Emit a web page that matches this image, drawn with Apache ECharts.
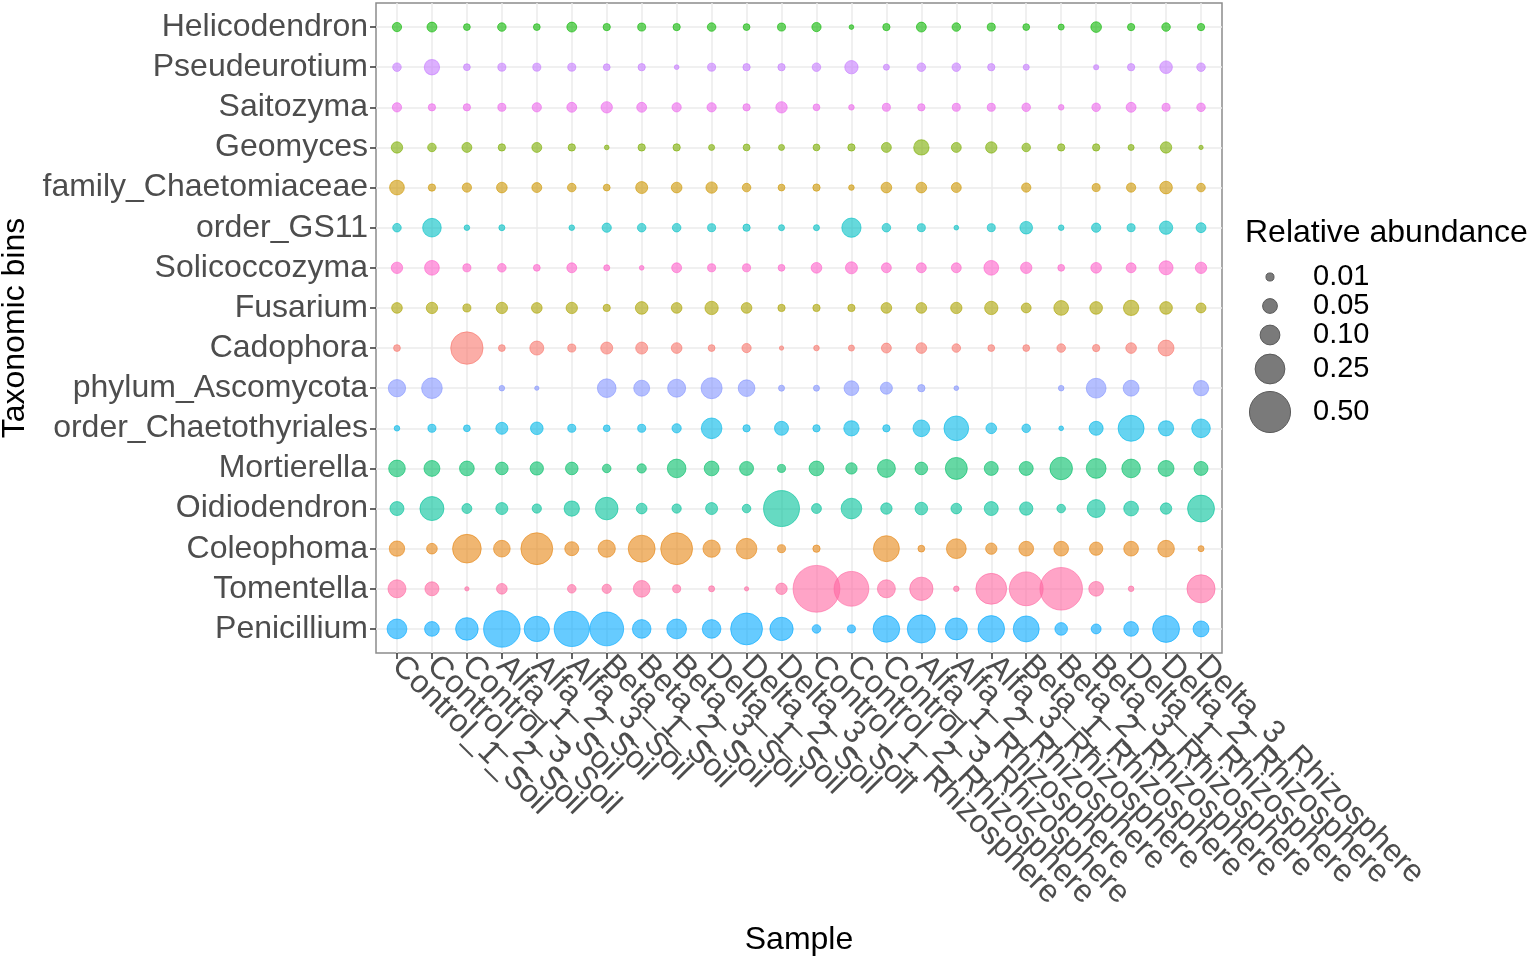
<!DOCTYPE html>
<html><head><meta charset="utf-8">
<script src="https://cdn.jsdelivr.net/npm/echarts@6/dist/echarts.min.js"></script>
<style>html,body{margin:0;padding:0;background:#fff}#c{width:1534px;height:961px}</style>
</head><body><div id="c"></div>
<script>
const samples = ['Control_1_Soil','Control_2_Soil','Control_3_Soil','Alfa_1_Soil','Alfa_2_Soil','Alfa_3_Soil','Beta_1_Soil','Beta_2_Soil','Beta_3_Soil','Delta_1_Soil','Delta_2_Soil','Delta_3_Soil','Control_1_Rhizosphere','Control_2_Rhizosphere','Control_3_Rhizosphere','Alfa_1_Rhizosphere','Alfa_2_Rhizosphere','Alfa_3_Rhizosphere','Beta_1_Rhizosphere','Beta_2_Rhizosphere','Beta_3_Rhizosphere','Delta_1_Rhizosphere','Delta_2_Rhizosphere','Delta_3_Rhizosphere'];
const taxa = ['Helicodendron','Pseudeurotium','Saitozyma','Geomyces','family_Chaetomiaceae','order_GS11','Solicoccozyma','Fusarium','Cadophora','phylum_Ascomycota','order_Chaetothyriales','Mortierella','Oidiodendron','Coleophoma','Tomentella','Penicillium'];
const taxonColors = ['#0CB702','#C77CFF','#ED68ED','#7CAE00','#CD9600','#00BFC4','#FF61CC','#ABA300','#F8766D','#8494FF','#00B8E7','#00BE67','#00C19A','#E68613','#FF68A1','#00A9FF'];

const helicodendron = [0.015,0.018,0.006,0.012,0.006,0.018,0.0075,0.01,0.0075,0.012,0.006,0.01, 0.015,0.0015,0.0075,0.018,0.012,0.01,0.006,0.004,0.022,0.0075,0.012,0.0075];
const pseudeurotium = [0.012,0.055,0.006,0.01,0.01,0.01,0.006,0.0075,0.0015,0.01,0.0075,0.0075, 0.012,0.039,0.004,0.012,0.012,0.0075,0.004,0,0.002,0.0075,0.034,0.012];
const saitozyma = [0.015,0.0075,0.0075,0.01,0.015,0.018,0.026,0.018,0.015,0.015,0.0075,0.026, 0.006,0.003,0.01,0.0075,0.01,0.01,0.012,0.003,0.012,0.018,0.01,0.012];
const geomyces = [0.026,0.012,0.018,0.0075,0.018,0.0075,0.0015,0.0075,0.0075,0.004,0.006,0.004, 0.006,0.0075,0.018,0.055,0.018,0.026,0.012,0.0075,0.0075,0.004,0.026,0.001];
const familyChaetomiaceae = [0.05,0.0075,0.015,0.022,0.018,0.012,0.006,0.03,0.022,0.026,0.012,0.006, 0.0075,0.003,0.022,0.022,0.018,0,0.015,0,0.01,0.015,0.034,0.012];
const orderGS11 = [0.012,0.087,0.003,0.004,0,0.003,0.015,0.012,0.012,0.01,0.0075,0.004, 0.004,0.094,0.012,0.01,0.0015,0.01,0.034,0.003,0.015,0.01,0.039,0.018];
const solicoccozyma = [0.026,0.05,0.01,0.012,0.006,0.018,0.004,0.0015,0.018,0.01,0.01,0.006, 0.022,0.03,0.018,0.018,0.018,0.05,0.026,0.006,0.022,0.018,0.044,0.026];
const fusarium = [0.022,0.026,0.01,0.026,0.022,0.026,0.0075,0.034,0.022,0.039,0.022,0.0075, 0.0075,0.0075,0.022,0.022,0.026,0.039,0.018,0.05,0.034,0.055,0.034,0.018];
const cadophora = [0.006,0,0.30,0.006,0.044,0.01,0.03,0.03,0.022,0.006,0.015,0.001, 0.003,0.004,0.018,0.022,0.012,0.006,0.006,0.012,0.0075,0.022,0.06,0];
const phylumAscomycota = [0.073,0.11,0,0.003,0.001,0,0.087,0.06,0.08,0.115,0.067,0.004, 0.004,0.05,0.03,0.0075,0.0015,0,0,0.003,0.10,0.06,0,0.055];
const orderChaetothyriales = [0.003,0.01,0.006,0.03,0.034,0.01,0.006,0.01,0.015,0.11,0.0075,0.044, 0.0075,0.055,0.0075,0.067,0.165,0.022,0.012,0.0015,0.044,0.185,0.055,0.087];
const mortierella = [0.067,0.06,0.05,0.034,0.039,0.034,0.012,0.015,0.087,0.05,0.044,0.01, 0.05,0.026,0.08,0.034,0.127,0.044,0.044,0.135,0.10,0.087,0.06,0.044];
const oidiodendron = [0.044,0.155,0.018,0.03,0.015,0.055,0.135,0.022,0.015,0.03,0.012,0.377, 0.018,0.11,0.026,0.034,0.022,0.044,0.039,0.012,0.08,0.05,0.026,0.2];
const coleophoma = [0.055,0.022,0.23,0.067,0.29,0.044,0.073,0.2,0.29,0.073,0.11,0.01, 0.0075,0,0.185,0.006,0.10,0.026,0.05,0.05,0.039,0.05,0.067,0.004];
const tomentella = [0.08,0.044,0.001,0.022,0,0.012,0.015,0.067,0.01,0.004,0.001,0.026, 0.66,0.35,0.08,0.145,0.003,0.27,0.33,0.54,0.05,0.003,0,0.22];
const penicillium = [0.10,0.05,0.135,0.39,0.175,0.36,0.33,0.087,0.10,0.087,0.29,0.145, 0.012,0.01,0.195,0.22,0.127,0.195,0.185,0.034,0.018,0.05,0.2,0.06];

const legendBreaks = [0.01, 0.05, 0.10, 0.25, 0.50];
const legendLabels = ['0.01','0.05','0.10','0.25','0.50'];

const rows = [helicodendron,pseudeurotium,saitozyma,geomyces,familyChaetomiaceae,orderGS11,solicoccozyma,fusarium,cadophora,phylumAscomycota,orderChaetothyriales,mortierella,oidiodendron,coleophoma,tomentella,penicillium];

const FONT = "'Liberation Sans', Arial, sans-serif";
function sizeOf(v){ return 2.6 + 54.4*Math.sqrt(v); }

const series = rows.map((vals, r) => ({
  type: 'scatter',
  name: taxa[r],
  xAxisIndex: 0,
  data: vals.map((v, i) => [i, r, v]).filter(d => d[2] > 0),
  symbolSize: d => sizeOf(d[2]),
  itemStyle: { color: taxonColors[r], opacity: 0.6, borderColor: taxonColors[r], borderWidth: 1 },
  z: 3
}));

const idxX = samples.map((_, i) => i);
const idxEven = idxX.filter(i => i % 2 === 0);
const idxOdd = idxX.filter(i => i % 2 === 1);
const idxY = taxa.map((_, i) => i);

function makeX(vals, withName) {
  return {
    type: 'value', min: -0.6, max: 23.6, position: 'bottom', offset: 0,
    name: withName ? 'Sample' : '', nameLocation: 'middle', nameGap: 271,
    nameTextStyle: { fontSize: 32, color: '#000', fontFamily: FONT },
    axisLine: { show: false, onZero: false },
    axisTick: { show: true, customValues: vals, length: 6, lineStyle: { color: '#333', width: 1.5 } },
    axisLabel: { customValues: vals, formatter: v => samples[Math.round(v)], rotate: -45, margin: 8, fontSize: 32, color: '#4D4D4D', fontFamily: FONT, hideOverlap: false },
    splitLine: { show: true, lineStyle: { color: '#EBEBEB', width: 1.5 } }
  };
}

const legendY = [277, 306, 335, 369, 412];
const graphic = [{ type: 'text', left: 1245, top: 217, style: { text: 'Relative abundance', font: '32px ' + FONT, fill: '#000' } }];
legendBreaks.forEach((b, k) => {
  const r = sizeOf(b) / 2;
  graphic.push({ type: 'circle', shape: { cx: 1270, cy: legendY[k], r: r }, style: { fill: '#7a7a7a', stroke: '#5a5a5a', lineWidth: 1 } });
  graphic.push({ type: 'text', x: 1313, y: legendY[k], style: { text: legendLabels[k], font: '29px ' + FONT, fill: '#000', verticalAlign: 'middle' } });
});

const chart = echarts.init(document.getElementById('c'), null, { renderer: 'canvas' });
chart.setOption({
  animation: false,
  backgroundColor: '#fff',
  grid: { left: 376, right: 312, top: 3, bottom: 308, show: true, borderColor: '#8c8c8c', borderWidth: 1.5, backgroundColor: 'transparent', containLabel: false, outerBoundsMode: 'none' },
  xAxis: [makeX(idxEven, true), makeX(idxOdd, false)],
  yAxis: {
    type: 'value', min: -0.6, max: 15.6, inverse: true,
    name: 'Taxonomic bins', nameLocation: 'middle', nameGap: 341,
    nameTextStyle: { fontSize: 32, color: '#000', fontFamily: FONT },
    axisLine: { show: false, onZero: false },
    axisTick: { show: true, customValues: idxY, length: 6, lineStyle: { color: '#333', width: 1.5 } },
    axisLabel: { customValues: idxY, formatter: v => taxa[Math.round(v)], margin: 8, fontSize: 32, color: '#4D4D4D', fontFamily: FONT, hideOverlap: false },
    splitLine: { show: true, lineStyle: { color: '#EBEBEB', width: 1.5 } }
  },
  graphic: graphic,
  series: series
});
</script>
</body></html>
